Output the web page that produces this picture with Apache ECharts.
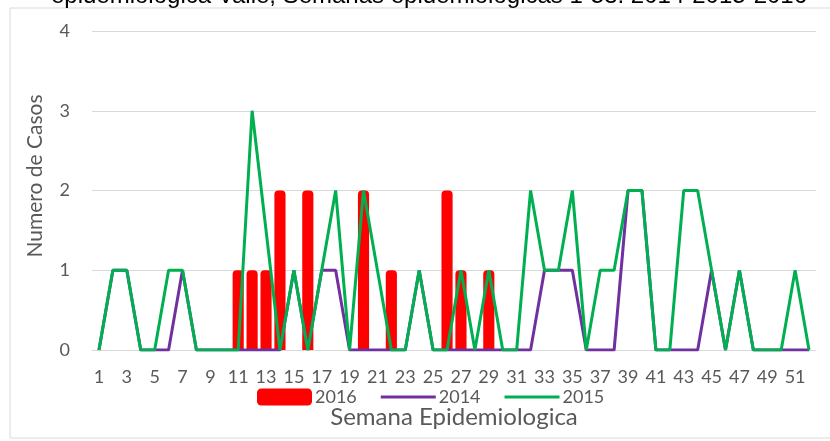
<!DOCTYPE html>
<html>
<head>
<meta charset="utf-8">
<script src="https://cdn.jsdelivr.net/npm/echarts@6/dist/echarts.min.js"></script>
<style>
  html, body { margin: 0; padding: 0; background: #fff; }
  #chart { width: 830px; height: 441px; }
</style>
</head>
<body>
<div id="chart"></div>
<script>
// weeks 1..52
const weeks = ['1','2','3','4','5','6','7','8','9','10','11','12','13','14','15','16','17','18','19','20',
  '21','22','23','24','25','26','27','28','29','30','31','32','33','34','35','36','37','38','39','40',
  '41','42','43','44','45','46','47','48','49','50','51','52'];

// 2016 bars (only up to week 29 reported)
const cases2016 = [null,null,null,null,null,null,null,null,null,null,1,1,1,2,null,2,null,null,null,2,
  null,1,null,null,null,2,1,null,1,null,null,null,null,null,null,null,null,null,null,null,
  null,null,null,null,null,null,null,null,null,null,null,null];

const cases2014 = [0,1,1,0,0,0,1,0,0,0,0,0,0,0,1,0,1,1,0,0,
  0,0,0,1,0,0,0,0,0,0,0,0,1,1,1,0,0,0,2,2,
  0,0,0,0,1,0,1,0,0,0,0,0];

// week 13 missing in 2015 -> line joins 12 and 14
const cases2015 = [0,1,1,0,0,1,1,0,0,0,0,3,null,0,1,0,1,2,0,2,
  1,0,0,1,0,0,1,0,1,0,0,2,1,1,2,0,1,1,2,2,
  0,0,2,2,1,0,1,0,0,0,1,0];

const yTicks = [0, 1, 2, 3, 4];

const FONT = 'Lato';
const GREY = '#595959';
// thin line icon for legend (empty subpaths keep the 55x17 box)
const LINE_ICON = 'path://M0,0L0,0M0,7L55,7L55,10L0,10ZM55,17L55,17';

const chart = echarts.init(document.getElementById('chart'), null, { renderer: 'canvas' });

chart.setOption({
  animation: false,
  color: ['#FF0000', '#7030A0', '#00B050'],
  grid: { left: 92, right: 14, top: 31, bottom: 91, outerBoundsMode: 'none' },
  graphic: [
    { type: 'rect', shape: { x: 10, y: 8, width: 840, height: 430 },
      style: { fill: 'none', stroke: '#D9D9D9', lineWidth: 1 }, silent: true },
    { type: 'text', x: 429, y: 8,
      style: { text: 'epidemiologica Valle, Semanas epidemiologicas 1-53. 2014-2015-2016',
        font: '24px "Liberation Sans"', fill: '#000', align: 'center', verticalAlign: 'bottom' } },
    { type: 'text', x: 35, y: 176, rotation: Math.PI / 2,
      style: { text: 'Numero de Casos', font: '21px ' + FONT, fill: GREY,
        align: 'center', verticalAlign: 'middle' } }
  ],
  legend: {
    left: 257, top: 388, padding: 0,
    itemWidth: 55, itemHeight: 17, itemGap: 24,
    textStyle: { fontFamily: FONT, fontSize: 18, color: GREY, padding: [0, 0, 0, -2] },
    data: [
      { name: '2016', icon: 'roundRect' },
      { name: '2014', icon: LINE_ICON },
      { name: '2015', icon: LINE_ICON }
    ]
  },
  xAxis: {
    type: 'category',
    data: weeks,
    boundaryGap: true,
    name: 'Semana Epidemiologica',
    nameLocation: 'middle',
    nameGap: 55,
    nameTextStyle: { fontFamily: FONT, fontSize: 24, color: GREY },
    axisLine: { lineStyle: { color: '#D9D9D9' } },
    axisTick: { show: false },
    axisLabel: { interval: 1, margin: 18, fontFamily: FONT, fontSize: 18, color: GREY }
  },
  yAxis: {
    type: 'value',
    min: yTicks[0], max: yTicks[yTicks.length - 1], interval: 1,
    axisLine: { show: false },
    axisTick: { show: false },
    splitLine: { lineStyle: { color: '#D9D9D9' } },
    axisLabel: { margin: 22, fontFamily: FONT, fontSize: 18, color: GREY }
  },
  series: [
    {
      name: '2016', type: 'bar', data: cases2016,
      barWidth: '80%',
      itemStyle: { color: '#FF0000', borderRadius: [4, 4, 0, 0] }
    },
    {
      name: '2014', type: 'line', data: cases2014,
      symbol: 'none',
      lineStyle: { color: '#7030A0', width: 3 },
      itemStyle: { color: '#7030A0' }
    },
    {
      name: '2015', type: 'line', data: cases2015,
      symbol: 'none', connectNulls: true,
      lineStyle: { color: '#00B050', width: 3 },
      itemStyle: { color: '#00B050' }
    }
  ]
});
</script>
</body>
</html>
